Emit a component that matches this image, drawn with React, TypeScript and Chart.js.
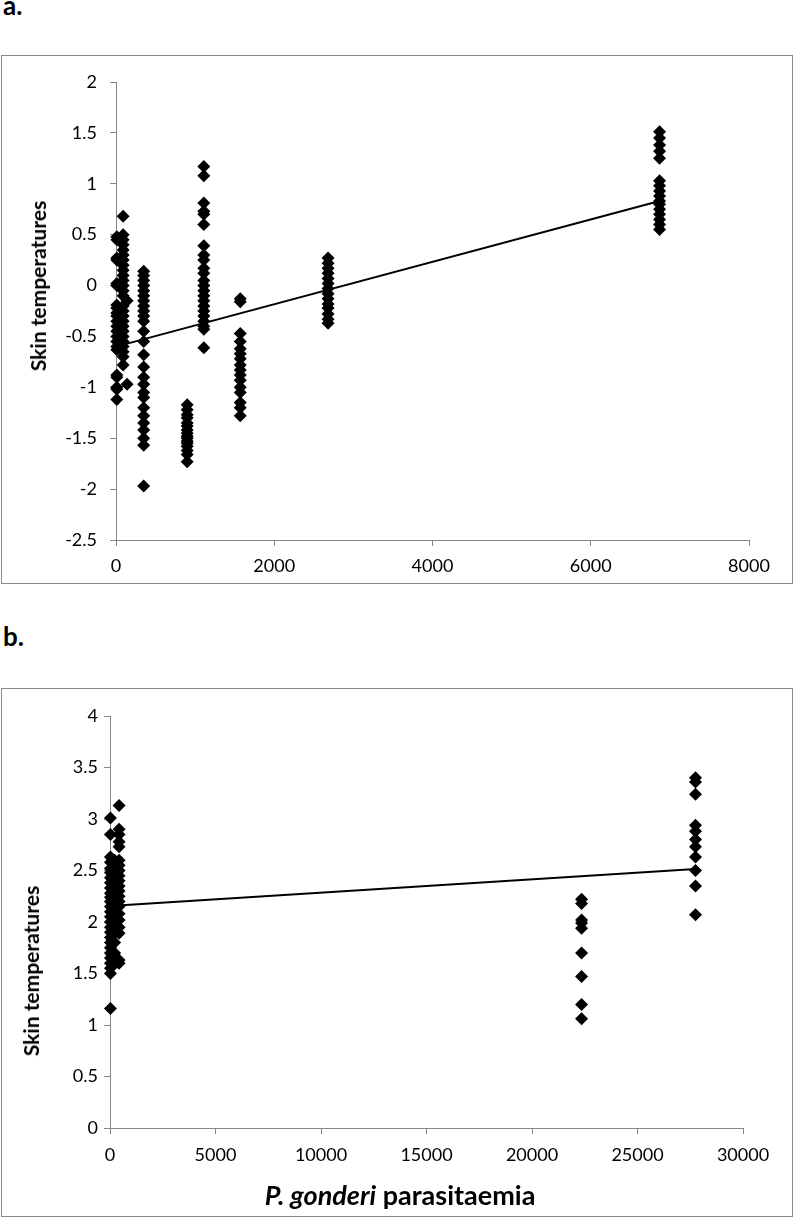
import React, { useEffect, useRef } from "react";
import { Chart, registerables } from "chart.js";

Chart.register(...registerables);

const FONT = "Lato, 'Open Sans', sans-serif";
const AXIS_GREY = "#868686";

// ---------- Panel a ----------
const aGroupX = [10, 90, 140, 350, 900, 1110, 1570, 2680, 6870];
const aGroup0 = [0.48, 0.45, 0.27, 0.25, 0.02, 0.0, -0.19, -0.22, -0.27, -0.3, -0.35, -0.4, -0.45, -0.5, -0.55, -0.6, -0.63, -0.88, -0.9, -1.0, -1.02, -1.12];
const aGroup1 = [0.68, 0.5, 0.45, 0.4, 0.35, 0.3, 0.25, 0.2, 0.15, 0.1, 0.05, 0.0, -0.05, -0.1, -0.2, -0.25, -0.3, -0.35, -0.4, -0.45, -0.5, -0.55, -0.6, -0.65, -0.7, -0.78];
const aGroup2 = [-0.15, -0.97];
const aGroup3 = [0.14, 0.1, 0.05, 0.0, -0.05, -0.1, -0.15, -0.2, -0.25, -0.3, -0.35, -0.45, -0.55, -0.68, -0.8, -0.9, -0.97, -1.05, -1.1, -1.2, -1.28, -1.35, -1.42, -1.5, -1.57, -1.97];
const aGroup4 = [-1.17, -1.22, -1.27, -1.3, -1.35, -1.38, -1.42, -1.45, -1.48, -1.5, -1.53, -1.55, -1.58, -1.62, -1.66, -1.73];
const aGroup5 = [1.17, 1.08, 0.81, 0.73, 0.7, 0.6, 0.39, 0.3, 0.25, 0.17, 0.12, 0.05, 0.0, -0.05, -0.1, -0.15, -0.2, -0.25, -0.3, -0.35, -0.4, -0.43, -0.61];
const aGroup6 = [-0.13, -0.16, -0.47, -0.55, -0.62, -0.67, -0.72, -0.78, -0.83, -0.88, -0.93, -1.0, -1.05, -1.15, -1.2, -1.28];
const aGroup7 = [0.27, 0.22, 0.17, 0.12, 0.07, 0.02, -0.03, -0.08, -0.13, -0.18, -0.22, -0.28, -0.33, -0.37];
const aGroup8 = [1.51, 1.45, 1.38, 1.32, 1.25, 1.03, 0.98, 0.93, 0.88, 0.83, 0.8, 0.75, 0.7, 0.65, 0.6, 0.55];
const aGroups = [aGroup0, aGroup1, aGroup2, aGroup3, aGroup4, aGroup5, aGroup6, aGroup7, aGroup8];
const aTrendX = [0, 6870];
const aTrendY = [-0.6, 0.83];
const aXTicks = [0, 2000, 4000, 6000, 8000];
const aYTicks = [-2.5, -2, -1.5, -1, -0.5, 0, 0.5, 1, 1.5, 2];

// ---------- Panel b ----------
const bGroupX = [20, 220, 430, 22350, 27750];
const bGroup0 = [3.01, 2.85, 2.63, 2.58, 2.52, 2.48, 2.43, 2.38, 2.33, 2.28, 2.24, 2.2, 2.15, 2.1, 2.05, 2.0, 1.95, 1.9, 1.85, 1.8, 1.75, 1.7, 1.65, 1.6, 1.55, 1.5, 1.16];
const bGroup1 = [2.6, 2.55, 2.5, 2.45, 2.4, 2.35, 2.3, 2.25, 2.2, 2.15, 2.1, 2.05, 2.0, 1.95, 1.9, 1.8, 1.7, 1.6];
const bGroup2 = [3.13, 2.9, 2.85, 2.78, 2.73, 2.6, 2.55, 2.5, 2.45, 2.4, 2.35, 2.3, 2.25, 2.2, 2.15, 2.08, 2.02, 1.95, 1.89, 1.63, 1.6];
const bGroup3 = [2.22, 2.18, 2.02, 1.99, 1.94, 1.7, 1.47, 1.2, 1.06];
const bGroup4 = [3.4, 3.36, 3.24, 2.94, 2.88, 2.8, 2.73, 2.63, 2.5, 2.35, 2.07];
const bGroups = [bGroup0, bGroup1, bGroup2, bGroup3, bGroup4];
const bTrendX = [0, 27750];
const bTrendY = [2.155, 2.515];
const bXTicks = [0, 5000, 10000, 15000, 20000, 25000, 30000];
const bYTicks = [0, 0.5, 1, 1.5, 2, 2.5, 3, 3.5, 4];

const yTitle = "Skin temperatures";
const xTitleItalic = "P. gonderi";
const xTitleRest = " parasitaemia";

type PanelProps = {
  groupX: number[];
  groups: number[][];
  trendX: number[];
  trendY: number[];
  xTicks: number[];
  yTicks: number[];
  width: number;
  height: number;
  yAxisWidth: number;
  xAxisHeight: number;
  padTop: number;
  padRight: number;
  yLabelPad: number;
  xLabelPad: number;
};

function Panel(p: PanelProps) {
  const ref = useRef<HTMLCanvasElement>(null);
  useEffect(() => {
    const points = p.groups.flatMap((ys, i) => ys.map((y) => ({ x: p.groupX[i], y })));
    const trend = p.trendX.map((x, i) => ({ x, y: p.trendY[i] }));
    const tickFont = { family: FONT, size: 18 };
    const chart = new Chart(ref.current!, {
      type: "scatter",
      data: {
        datasets: [
          {
            data: points,
            pointStyle: "rectRot",
            pointRadius: 6.5,
            pointHoverRadius: 6.5,
            backgroundColor: "#000",
            borderColor: "#000",
            borderWidth: 0,
            clip: false,
          },
          {
            type: "line",
            data: trend,
            borderColor: "#000",
            borderWidth: 2,
            pointRadius: 0,
            fill: false,
            showLine: true,
            clip: false,
          } as any,
        ],
      },
      options: {
        animation: false,
        responsive: false,
        maintainAspectRatio: false,
        events: [],
        layout: { padding: { top: p.padTop, right: p.padRight, left: 0, bottom: 0 } },
        plugins: { legend: { display: false }, tooltip: { enabled: false } },
        scales: {
          x: {
            type: "linear",
            min: p.xTicks[0],
            max: p.xTicks[p.xTicks.length - 1],
            afterBuildTicks: (s: any) => {
              s.ticks = p.xTicks.map((v) => ({ value: v }));
            },
            afterFit: (s: any) => {
              s.height = p.xAxisHeight;
            },
            ticks: {
              color: "#000",
              font: tickFont,
              padding: p.xLabelPad,
              maxRotation: 0,
              autoSkip: false,
              callback: (v: any) => String(v),
            },
            grid: { drawOnChartArea: false, drawTicks: true, tickLength: 6, color: AXIS_GREY, lineWidth: 1 },
            border: { display: true, color: AXIS_GREY, width: 1 },
          },
          y: {
            type: "linear",
            min: p.yTicks[0],
            max: p.yTicks[p.yTicks.length - 1],
            afterBuildTicks: (s: any) => {
              s.ticks = p.yTicks.map((v) => ({ value: v }));
            },
            afterFit: (s: any) => {
              s.width = p.yAxisWidth;
            },
            ticks: {
              color: "#000",
              font: tickFont,
              padding: p.yLabelPad,
              autoSkip: false,
              callback: (v: any) => String(v),
            },
            grid: { drawOnChartArea: false, drawTicks: true, tickLength: 6, color: AXIS_GREY, lineWidth: 1 },
            border: { display: true, color: AXIS_GREY, width: 1 },
          },
        },
      },
    } as any);
    return () => chart.destroy();
  }, []);
  return <canvas ref={ref} width={p.width} height={p.height} style={{ display: "block" }} />;
}

const boxStyle = (top: number): React.CSSProperties => ({
  position: "absolute",
  left: 1,
  top,
  width: 790,
  height: 527,
  border: "1px solid #8a8a8a",
  background: "#fff",
});

const yTitleStyle = (cx: number, cy: number): React.CSSProperties => ({
  position: "absolute",
  left: cx,
  top: cy,
  transform: "translate(-50%, -50%) rotate(-90deg)",
  fontFamily: FONT,
  fontWeight: 700,
  fontSize: 21,
  whiteSpace: "nowrap",
  lineHeight: "24px",
  color: "#000",
});

export default function App() {
  return (
    <div style={{ position: "absolute", left: 0, top: 0, width: 794, height: 1217, background: "#fff", fontFamily: FONT }}>
      <div style={{ position: "absolute", left: 3, top: -8, fontSize: 26, fontWeight: 700, lineHeight: "26px" }}>a.</div>
      <div style={boxStyle(55)}>
        <Panel
          groupX={aGroupX}
          groups={aGroups}
          trendX={aTrendX}
          trendY={aTrendY}
          xTicks={aXTicks}
          yTicks={aYTicks}
          width={790}
          height={527}
          yAxisWidth={114}
          xAxisHeight={43}
          padTop={26}
          padRight={43}
          yLabelPad={13}
          xLabelPad={9}
        />
        <div style={yTitleStyle(36, 230)}>{yTitle}</div>
      </div>

      <div style={{ position: "absolute", left: 3, top: 623, fontSize: 26, fontWeight: 700, lineHeight: "26px" }}>b.</div>
      <div style={boxStyle(688)}>
        <Panel
          groupX={bGroupX}
          groups={bGroups}
          trendX={bTrendX}
          trendY={bTrendY}
          xTicks={bXTicks}
          yTicks={bYTicks}
          width={790}
          height={527}
          yAxisWidth={108}
          xAxisHeight={88}
          padTop={27}
          padRight={49}
          yLabelPad={6}
          xLabelPad={10}
        />
        <div style={yTitleStyle(29, 282)}>{yTitle}</div>
        <div
          style={{
            position: "absolute",
            left: 398,
            top: 506,
            transform: "translate(-50%, -50%)",
            fontWeight: 700,
            fontSize: 27,
            whiteSpace: "nowrap",
            lineHeight: "30px",
          }}
        >
          <i>{xTitleItalic}</i>
          {xTitleRest}
        </div>
      </div>
    </div>
  );
}
